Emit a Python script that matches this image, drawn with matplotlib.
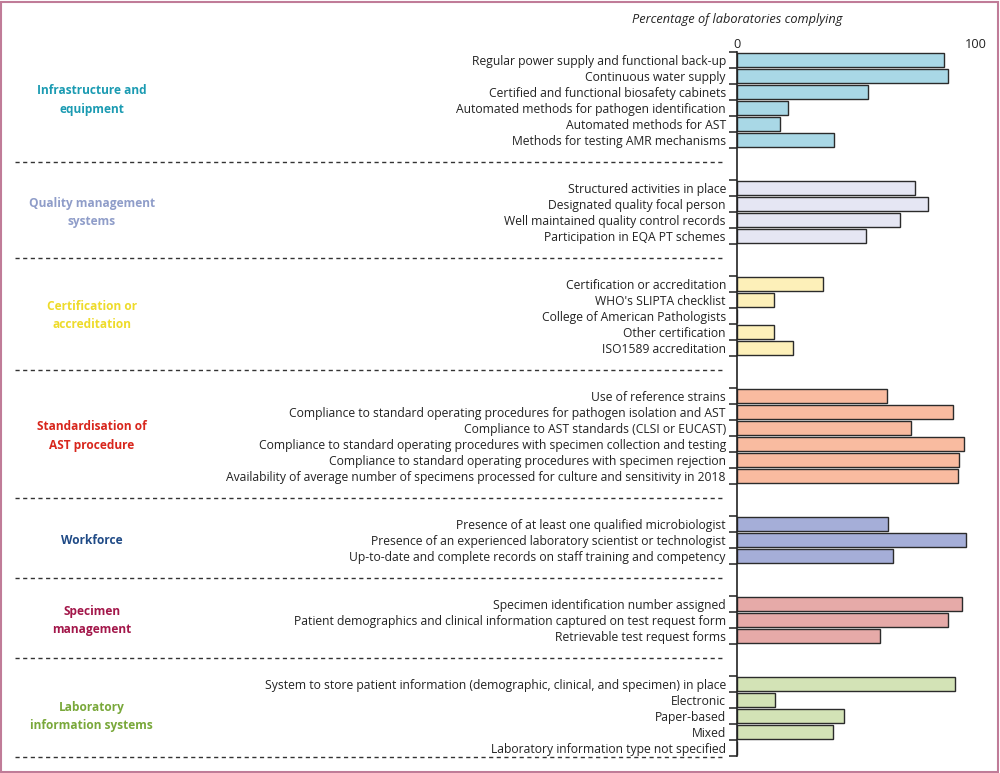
import matplotlib
matplotlib.use('Agg')
import matplotlib.pyplot as plt
from matplotlib.patches import Rectangle

plt.rcParams['font.family'] = ['Open Sans', 'DejaVu Sans']

groups = ['Infrastructure and\nequipment', 'Quality management\nsystems',
          'Certification or\naccreditation', 'Standardisation of\nAST procedure',
          'Workforce', 'Specimen\nmanagement', 'Laboratory\ninformation systems']

infra_labels = ['Regular power supply and functional back-up', 'Continuous water supply',
                'Certified and functional biosafety cabinets',
                'Automated methods for pathogen identification', 'Automated methods for AST',
                'Methods for testing AMR mechanisms']
infra_vals = [86.6, 88.4, 54.8, 21.3, 18.0, 40.6]

qms_labels = ['Structured activities in place', 'Designated quality focal person',
              'Well maintained quality control records', 'Participation in EQA PT schemes']
qms_vals = [74.5, 79.9, 68.2, 54.0]

cert_labels = ['Certification or accreditation', "WHO's SLIPTA checklist",
               'College of American Pathologists', 'Other certification',
               'ISO1589 accreditation']
cert_vals = [36.0, 15.5, 0, 15.5, 23.4]

ast_labels = ['Use of reference strains',
              'Compliance to standard operating procedures for pathogen isolation and AST',
              'Compliance to AST standards (CLSI or EUCAST)',
              'Compliance to standard operating procedures with specimen collection and testing',
              'Compliance to standard operating procedures with specimen rejection',
              'Availability of average number of specimens processed for culture and sensitivity in 2018']
ast_vals = [62.8, 90.4, 72.8, 95.0, 92.9, 92.5]

work_labels = ['Presence of at least one qualified microbiologist',
               'Presence of an experienced laboratory scientist or technologist',
               'Up-to-date and complete records on staff training and competency']
work_vals = [63.2, 95.8, 65.3]

spec_labels = ['Specimen identification number assigned',
               'Patient demographics and clinical information captured on test request form',
               'Retrievable test request forms']
spec_vals = [94.1, 88.3, 59.8]

lis_labels = ['System to store patient information (demographic, clinical, and specimen) in place',
              'Electronic', 'Paper-based', 'Mixed', 'Laboratory information type not specified']
lis_vals = [91.2, 15.9, 44.8, 40.3, 0]

all_labels = [infra_labels, qms_labels, cert_labels, ast_labels, work_labels, spec_labels, lis_labels]
all_vals = [infra_vals, qms_vals, cert_vals, ast_vals, work_vals, spec_vals, lis_vals]

bar_colors = ['#a9d8e6', '#e5e6f3', '#fdf0b9', '#f9bba0', '#a5aed8', '#e6aaa8', '#d3e3b6']
text_colors = ['#1b9bb2', '#8f9dc9', '#eedb2a', '#d8261c', '#1f4a86', '#a3174a', '#79a83a']

GAP = 2

fig = plt.figure(figsize=(10, 7.73), dpi=100)
top_px, bot_px = 52, 756
ax = fig.add_axes([0.737, 1 - bot_px / 773, 0.239, (bot_px - top_px) / 773])

pos = 0
centers, names, bounds, seps, mids = [], [], [], [], []
for gi, (labs, vals) in enumerate(zip(all_labels, all_vals)):
    start = pos
    for lab, v in zip(labs, vals):
        c = pos + 0.5
        ax.barh(c, v, height=0.86, color=bar_colors[gi], edgecolor='#2b2b2b', linewidth=1.0)
        centers.append(c)
        names.append(lab)
        bounds.append(pos)
        pos += 1
    bounds.append(pos)
    mids.append((start + pos) / 2)
    seps.append(pos + GAP / 2 - 0.12 if gi < len(all_labels) - 1 else pos + 0.05)
    pos += GAP
total = pos - GAP

ax.set_xlim(0, 100)
ax.set_ylim(total, 0)

for s in ['top', 'right', 'bottom']:
    ax.spines[s].set_visible(False)
ax.spines['left'].set_linewidth(1.2)
ax.spines['left'].set_color('#222222')

ax.set_yticks(bounds)
ax.set_yticklabels([])
ax.tick_params(axis='y', which='major', length=6, width=1.1, color='#222222')
ax.set_yticks(centers, minor=True)
ax.set_yticklabels(names, minor=True, fontsize=8.75, color='#222222')
ax.tick_params(axis='y', which='minor', length=0, pad=8)

ax.xaxis.tick_top()
ax.set_xticks([0, 100])
ax.set_xticklabels(['0', '100'], fontsize=9.2, color='#222222')
ax.tick_params(axis='x', length=0, pad=1)
ax.text(0, -2.0, 'Percentage of laboratories complying', ha='center', va='center',
        fontsize=9.2, style='italic', color='#222222')

for s in seps:
    ax.plot([-302, -5.5], [s, s], color='#333333', linestyle=(0, (3, 2.5)), linewidth=1.0,
            clip_on=False)

for gi, m in enumerate(mids):
    ax.text(-270, m, groups[gi], ha='center', va='center', fontsize=8.6, fontweight='bold',
            color=text_colors[gi], linespacing=1.5)

fig.patches.append(Rectangle((0.001, 0.001), 0.997, 0.997, transform=fig.transFigure,
                             fill=False, edgecolor='#c07c98', linewidth=1.5))

fig.savefig('out.png', dpi=100)
